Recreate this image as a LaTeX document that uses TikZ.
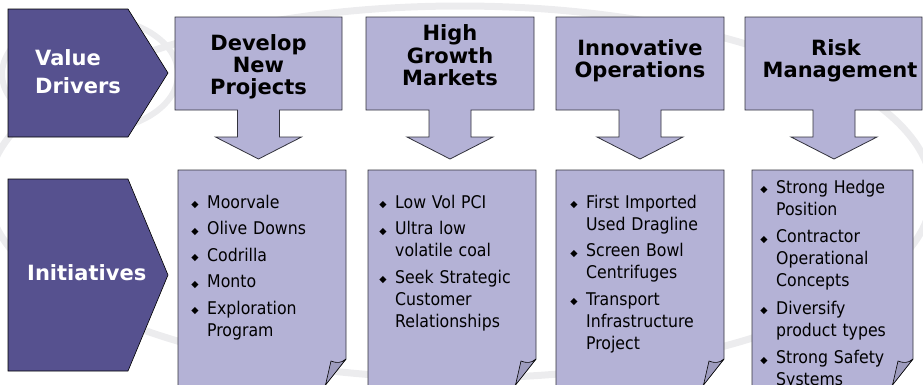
\documentclass[tikz,border=0pt]{standalone}
\usepackage{fontspec}
\setmainfont{DejaVu Sans Condensed}
\newfontfamily\hdrfont{DejaVu Sans}
\newfontfamily\symfont{DejaVu Sans}
\usetikzlibrary{shapes.geometric}

\definecolor{drvdark}{RGB}{86,81,143}
\definecolor{drvlight}{RGB}{180,178,214}
\definecolor{drvfold}{RGB}{158,156,190}
\definecolor{drvedge}{RGB}{50,50,60}
\definecolor{swoosh}{RGB}{236,236,238}

% one bullet item: the diamond hangs to the left of the text column
\newcommand{\bitem}[1]{\par\noindent\llap{{\symfont\fontsize{9.5}{9.5}\selectfont\raisebox{0.5pt}{◆}}\hspace{8.5pt}}#1}

\tikzset{
  pentagon/.style={fill=drvdark, draw=black, line width=0.6pt},
  headbox/.style={fill=drvlight, draw=drvedge, line width=0.8pt, line join=miter},
  pagebox/.style={fill=drvlight, draw=drvedge, line width=0.8pt},
  foldpart/.style={fill=drvfold, draw=black, line width=0.6pt, line join=round},
  sidelabel/.style={text=white, font=\hdrfont\bfseries\fontsize{21}{27}\selectfont, inner sep=0, anchor=base west},
  headline/.style={text=black, font=\hdrfont\bfseries\fontsize{21}{22}\selectfont, inner sep=0, anchor=base},
  itemlist/.style={anchor=north west, inner sep=0, text width=150pt, align=left,
    font=\fontsize{17.5}{22}\selectfont},
}

\begin{document}
\begin{tikzpicture}[x=1pt, y=-1pt]
\useasboundingbox (0,0) rectangle (923,384);
\begin{scope}
\clip (0,0) rectangle (923,384);

% faint background swooshes
\draw[swoosh, line width=7pt] (460,192) ellipse [x radius=472, y radius=186];
\draw[swoosh, line width=6pt] (90,74) ellipse [x radius=88, y radius=57];

% side pentagons
\path[pentagon] (8,9) -- (128,9) -- (168,73) -- (128,137) -- (8,137) -- cycle;
\path[pentagon] (8,179) -- (128,179) -- (168,275) -- (128,371) -- (8,371) -- cycle;
\node[sidelabel] (vd1) at (35,65) {Value};
\node[sidelabel] (vd2) at (35,93) {Drivers};
\node[sidelabel] (ini) at (27,280) {Initiatives};

% header callouts with down arrows: left, right, centre
\foreach \l/\r/\c [count=\i] in {175/342/258.5, 366/534/450, 556/724/640, 745/922/834}{
  \path[headbox] (\l,17) -- (\r,17) -- (\r,110) -- (\c+21,110) -- (\c+21,137)
     -- (\c+43,137) -- (\c,159) -- (\c-43,137) -- (\c-21,137) -- (\c-21,110)
     -- (\l,110) -- cycle;
}

% initiative pages with a curled bottom-right corner
\foreach \l/\r in {178/346, 368/536, 556/724, 752/913}{
  \path[pagebox] (\l,170) -- (\r,170) -- (\r,359) -- (\r-26.4,392) -- (\l,392) -- cycle;
  \path[foldpart] (\r,359) .. controls (\r-5,363.5) and (\r-10,363) .. (\r-15,361)
     -- (\r-20.5,385) -- cycle;
}
\end{scope}

% header texts
\node[headline] (h1a) at (258.5,50) {Develop};
\node[headline] (h1b) at (258.5,72) {New};
\node[headline] (h1c) at (258.5,94) {Projects};
\node[headline] (h2a) at (450,40) {High};
\node[headline] (h2b) at (450,63) {Growth};
\node[headline] (h2c) at (450,85) {Markets};
\node[headline] (h3a) at (640,55) {Innovative};
\node[headline] (h3b) at (640,77) {Operations};
\node[headline] (h4a) at (836,55) {Risk};
\node[headline] (h4b) at (840,77) {Management};

% initiative lists
\node[itemlist] (l1) at (207,186) {%
  \bitem{\rule{0pt}{14pt}Moorvale}\par\vspace{4.5pt}
  \bitem{Olive Downs}\par\vspace{4.5pt}
  \bitem{Codrilla}\par\vspace{4.5pt}
  \bitem{Monto}\par\vspace{4.5pt}
  \bitem{Exploration\\Program}};
\node[itemlist] (l2) at (395,186) {%
  \bitem{\rule{0pt}{14pt}Low Vol PCI}\par\vspace{4.5pt}
  \bitem{Ultra low\\volatile coal}\par\vspace{4.5pt}
  \bitem{Seek Strategic\\Customer\\Relationships}};
\node[itemlist] (l3) at (586,186) {%
  \bitem{\rule{0pt}{14pt}First Imported\\Used Dragline}\par\vspace{4.5pt}
  \bitem{Screen Bowl\\Centrifuges}\par\vspace{4.5pt}
  \bitem{Transport\\Infrastructure\\Project}};
\node[itemlist] (l4) at (776,171) {%
  \bitem{\rule{0pt}{14pt}Strong Hedge\\Position}\par\vspace{5.5pt}
  \bitem{Contractor\\Operational\\Concepts}\par\vspace{5.5pt}
  \bitem{Diversify\\product types}\par\vspace{5.5pt}
  \bitem{Strong Safety\\Systems}};
\end{tikzpicture}
\end{document}
